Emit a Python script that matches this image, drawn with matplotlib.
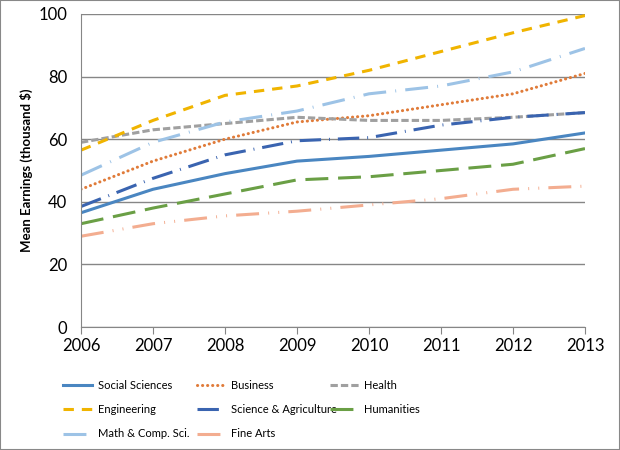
import matplotlib.pyplot as plt
from matplotlib.patches import Rectangle

plt.rcParams['font.family'] = ['Lato', 'DejaVu Sans']

years = [2006, 2007, 2008, 2009, 2010, 2011, 2012, 2013]

social = [36.5, 44, 49, 53, 54.5, 56.5, 58.5, 62]
business = [44, 53, 60, 65.5, 67.5, 71, 74.5, 81]
health = [59, 63, 65, 67, 66, 66, 67, 68.5]
engineering = [56.5, 66, 74, 77, 82, 88, 94, 99.5]
sci_agri = [38.5, 47.5, 55, 59.5, 60.5, 64.5, 67, 68.5]
humanities = [33, 38, 42.5, 47, 48, 50, 52, 57]
math_cs = [48.5, 59, 65.5, 69, 74.5, 77, 81.5, 89]
fine_arts = [29, 33, 35.5, 37, 39, 41, 44, 45]

names = ['Social Sciences', 'Business', 'Health', 'Engineering',
         'Science & Agriculture', 'Humanities', 'Math & Comp. Sci.', 'Fine Arts']
series = [social, business, health, engineering, sci_agri, humanities, math_cs, fine_arts]
colors = ['#4A86C1', '#E07B39', '#A0A0A0', '#F0B400',
          '#3A64B0', '#6A9F45', '#9DC3E6', '#F3AD90']
styles = ['-', (0, (0.05, 1.6)), (0, (2.4, 1.0)), (0, (3.4, 2.6)),
          (0, (7, 2.6, 0.3, 2.6)), (0, (7.5, 3.2)), (0, (7.5, 3, 0.3, 3)),
          (0, (7.5, 3, 0.3, 3, 0.3, 3))]

fig = plt.figure(figsize=(6.2, 4.5), dpi=100)
ax = fig.add_axes([0.1306, 0.2733, 0.8129, 0.6956])

lines = []
for vals, name, c, ls in zip(series, names, colors, styles):
    cap = 'round' if name == 'Business' else 'butt'
    ln, = ax.plot(years, vals, color=c, linestyle=ls, linewidth=2.2,
                  dash_capstyle=cap, label=name)
    lines.append(ln)

ax.set_xlim(2006, 2013)
ax.set_ylim(0, 100)
ax.set_yticks([0, 20, 40, 60, 80, 100])
ax.set_xticks(years)
ax.grid(axis='y', color='#868686', linewidth=1)
ax.set_axisbelow(True)
for s in ['top', 'right']:
    ax.spines[s].set_visible(False)
for s in ['left', 'bottom']:
    ax.spines[s].set_color('#868686')
ax.tick_params(axis='both', labelsize=12, color='#868686', length=5)
ax.tick_params(axis='y', length=0, pad=10)
ax.tick_params(axis='x', direction='out', pad=3)
ax.set_ylabel('Mean Earnings (thousand $)', fontsize=9.5, fontweight='bold', labelpad=4)

# legend: three columns placed like the original
cols = [[0, 3, 6], [1, 4, 7], [2, 5]]
xs = [0.095, 0.31, 0.525]
for x0, idx in zip(xs, cols):
    leg = fig.legend([lines[i] for i in idx], [names[i] for i in idx],
                     loc='upper left', bbox_to_anchor=(x0, 0.166), frameon=False,
                     fontsize=8, handlelength=2.6, handletextpad=0.5,
                     labelspacing=1.2, borderaxespad=0)

fig.patches.append(Rectangle((0, 0), 1, 1, transform=fig.transFigure, fill=False,
                             edgecolor='#888888', linewidth=1.5))

fig.savefig('out.png', dpi=100)
